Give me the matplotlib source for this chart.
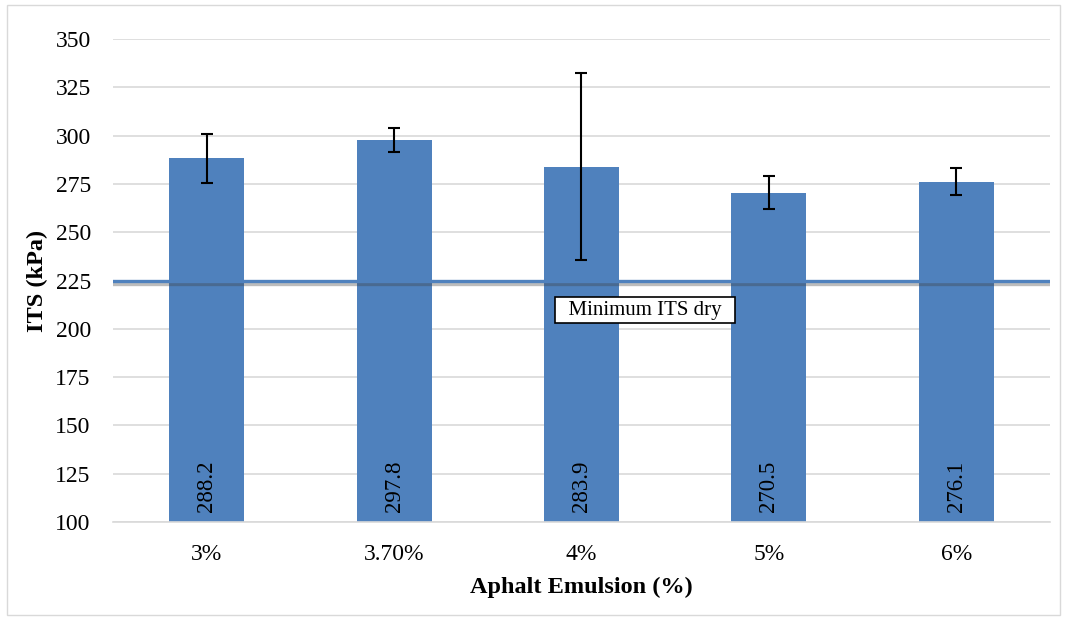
import matplotlib
matplotlib.use("Agg")
import matplotlib.pyplot as plt
import matplotlib.patheffects as pe
from matplotlib.patches import Rectangle

categories = ["3%", "3.70%", "4%", "5%", "6%"]
its_values = [288.2, 297.8, 283.9, 270.5, 276.1]
its_errors = [12.8, 6.2, 48.5, 8.4, 6.9]
min_its = 225
y_ticks = [100, 125, 150, 175, 200, 225, 250, 275, 300, 325, 350]

bar_color = "#4F81BD"
serif = ["Liberation Serif", "DejaVu Serif"]

fig = plt.figure(figsize=(10.67, 6.2), dpi=100)
ax = fig.add_axes([0.1059, 0.158, 0.878, 0.779])

x = list(range(len(categories)))
ax.bar(x, its_values, width=0.4, color=bar_color, zorder=2)
ax.errorbar(x, its_values, yerr=its_errors, fmt="none", ecolor="black",
            elinewidth=1.5, capsize=4.5, capthick=1.5, zorder=4)

for xi, v in zip(x, its_values):
    ax.text(xi, 105, f"{v:.1f}", rotation=90, ha="center", va="bottom",
            fontsize=16.5, family=serif, color="black", zorder=5)

# minimum ITS threshold line with a soft drop shadow
ax.axhline(min_its, color=bar_color, lw=2.4, zorder=3,
           path_effects=[pe.SimpleLineShadow(offset=(0, -2.2), alpha=0.35,
                                             shadow_color="#404040"),
                         pe.Normal()])
ax.text(2.339, 209.7, "  Minimum ITS dry  ", ha="center", va="center",
        fontsize=15, family=serif, zorder=6,
        bbox=dict(boxstyle="square,pad=0.15", fc="white", ec="black", lw=1.2))

ax.set_xlim(-0.5, len(categories) - 0.5)
ax.set_ylim(100, 350)
ax.set_yticks(y_ticks)
ax.set_xticks(x)
ax.set_xticklabels(categories)
ax.grid(axis="y", color="#D9D9D9", lw=1.2, zorder=0)
ax.set_axisbelow(True)
for s in ["top", "right", "left"]:
    ax.spines[s].set_visible(False)
ax.spines["bottom"].set_color("#D9D9D9")
ax.spines["bottom"].set_linewidth(1.2)
ax.tick_params(length=0, labelsize=17)
ax.tick_params(axis="y", pad=16)
ax.tick_params(axis="x", pad=16)
for lbl in ax.get_xticklabels() + ax.get_yticklabels():
    lbl.set_family(serif)

ax.set_xlabel("Aphalt Emulsion (%)", fontsize=17.5, fontweight="bold",
              family=serif, labelpad=8)
ax.set_ylabel("ITS (kPa)", fontsize=17.5, fontweight="bold", family=serif,
              labelpad=5)

fig.patches.append(Rectangle((0.0066, 0.008), 0.987, 0.984,
                             transform=fig.transFigure, fill=False,
                             ec="#D9D9D9", lw=1.0))

fig.savefig("out.png", dpi=100, facecolor="white")
